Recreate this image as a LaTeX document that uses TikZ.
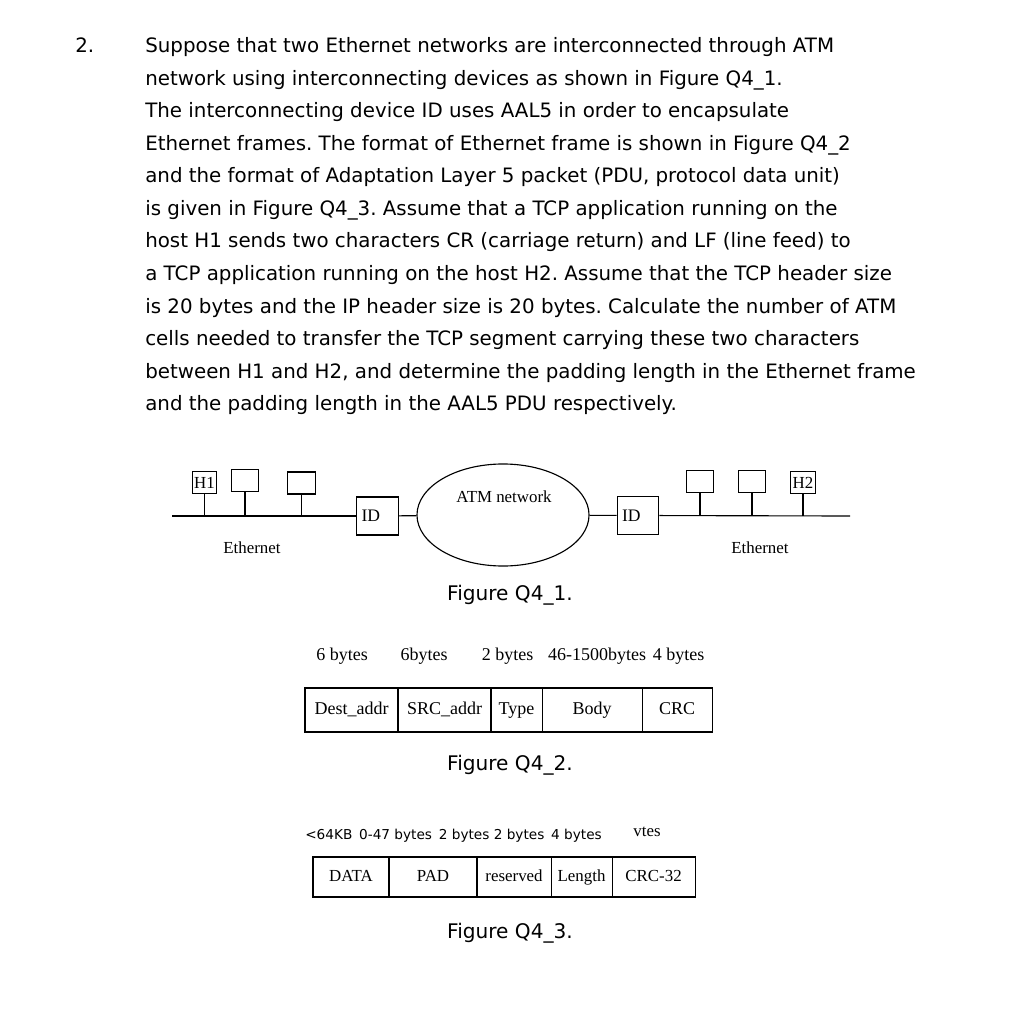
\documentclass[tikz,border=0pt]{standalone}
\usepackage{fontspec}
\setmainfont{Liberation Serif}
\newfontfamily\qfont{DejaVu Sans}
\usetikzlibrary{positioning,shapes.geometric}
\frenchspacing
\tikzset{
    qtext/.style={anchor=base west, inner sep=0pt, font=\qfont\fontsize{14.1}{17}\selectfont},
    caption/.style={anchor=base, inner sep=0pt, font=\qfont\fontsize{14.3}{17}\selectfont},
    lan/.style={line width=0.8pt},
    host/.style={draw, line width=0.8pt, minimum width=0.68cm, minimum height=0.55cm, inner sep=0pt, font=\fontsize{12}{14}\selectfont},
    idbox/.style={draw, line width=0.8pt, text width=0.8cm, align=left, inner xsep=0.12cm, minimum height=0.95cm, font=\fontsize{12.5}{14}\selectfont},
    cell/.style={draw, line width=0.8pt, inner sep=0pt, outer sep=0pt, text height=9pt, text depth=3pt}
}
\begin{document}
\begin{tikzpicture}[x=0.025cm, y=-0.025cm,
    % Style cho chu thich trong hinh
    small/.style={inner sep=0pt, font=\fontsize{12}{14}\selectfont},
    head/.style={anchor=base, inner sep=0pt, font=\fontsize{12.8}{15}\selectfont}
]
    \fill[white] (0,0) rectangle (1022,1024);
    \useasboundingbox (0,0) rectangle (1022,1024);

    % --- DE BAI ---
    \node[qtext] (num) at (75,53) {2.};
    \foreach \txt [count=\i from 0] in {
        Suppose that two Ethernet networks are interconnected through ATM,
        network using interconnecting devices as shown in Figure Q4\_1.,
        The interconnecting device ID uses AAL5 in order to encapsulate,
        Ethernet frames. The format of Ethernet frame is shown in Figure Q4\_2,
        {and the format of Adaptation Layer 5 packet (PDU, protocol data unit)},
        is given in Figure Q4\_3. Assume that a TCP application running on the,
        host H1 sends two characters CR (carriage return) and LF (line feed) to,
        {a TCP application running on the host H2. Assume that the TCP header size},
        is 20 bytes and the IP header size is 20 bytes. Calculate the number of ATM,
        cells needed to transfer the TCP segment carrying these two characters,
        {between H1 and H2, and determine the padding length in the Ethernet frame},
        and the padding length in the AAL5 PDU respectively.
    }
        \node[qtext] (line\i) at (145,{53+32.5*\i}) {\txt};

    % --- HINH Q4_1 ---
    % Mang ATM o giua
    \node[ellipse, draw, line width=0.8pt, minimum width=4.3cm, minimum height=2.55cm] (atm) at (503,515) {};
    \node[small] (atmlabel) at (504,497) {ATM network};
    \node[idbox] (idL) at (377.5,516) {ID};
    \node[idbox] (idR) at (638,515.5) {ID};
    \draw[lan] (idL) -- (atm);
    \draw[lan] (atm) -- (idR);

    % Ethernet trai
    \coordinate (lanL) at (172,516);
    \draw[lan] (lanL) -- (idL);
    \node[host, minimum width=0.62cm] (h1) at (204.5,482.5) {H1};
    \node[host] (hL2) at (245,480.5) {};
    \node[host] (hL3) at (301.5,483) {};
    \foreach \h in {h1,hL2,hL3}
        \draw[lan] (\h) -- (\h |- lanL);
    \node[small] (ethL) at (252,548) {Ethernet};

    % Ethernet phai
    \coordinate (lanR) at (850,516);
    \draw[lan] (idR) -- (lanR);
    \node[host] (hR1) at (700,481.5) {};
    \node[host] (hR2) at (752,481.5) {};
    \node[host, minimum width=0.62cm] (h2) at (803,482.5) {H2};
    \foreach \h in {hR1,hR2,h2}
        \draw[lan] (\h) -- (\h |- lanR);
    \node[small] (ethR) at (760,548) {Ethernet};

    \node[caption] (cap1) at (510,600) {Figure Q4\_1.};

    % --- HINH Q4_2: khung Ethernet ---
    \node[head] (b1) at (342,660) {6 bytes};
    \node[head] (b2) at (424,660) {6bytes};
    \node[head] (b3) at (507.5,660) {2 bytes};
    \node[head] (b4) at (597,660) {46-1500bytes};
    \node[head] (b5) at (678.5,660) {4 bytes};

    \begin{scope}[every node/.append style={cell, font=\fontsize{12.8}{15}\selectfont, minimum height=1.1cm}]
        \node[minimum width=2.325cm, anchor=west] (dest) at (305,710) {Dest\_addr};
        \node[minimum width=2.325cm, right=0pt of dest] (src) {SRC\_addr};
        \node[minimum width=1.275cm, right=0pt of src] (type) {Type};
        \node[minimum width=2.5cm, right=0pt of type] (body) {Body};
        \node[minimum width=1.75cm, right=0pt of body] (crc) {CRC};
    \end{scope}

    \node[caption] (cap2) at (510,770) {Figure Q4\_2.};

    % --- HINH Q4_3: AAL5 PDU ---
    \node[anchor=base west, inner sep=0pt, font=\qfont\fontsize{9.7}{12}\selectfont] (aalhead) at (305,839)
        {<64KB\enspace 0-47 bytes\enspace 2 bytes 2 bytes\enspace 4 bytes};
    \node[head, font=\fontsize{12}{14}\selectfont] (cut) at (647,836) {vtes};

    \begin{scope}[every node/.append style={cell, font=\fontsize{12}{14}\selectfont, minimum height=1.0cm}]
        \node[minimum width=1.9cm, anchor=west] (data) at (313,877) {DATA};
        \node[minimum width=2.2cm, right=0pt of data] (pad) {PAD};
        \node[minimum width=1.85cm, right=0pt of pad] (resv) {reserved};
        \node[minimum width=1.525cm, right=0pt of resv] (len) {Length};
        \node[minimum width=2.075cm, right=0pt of len] (crc32) {CRC-32};
    \end{scope}

    \node[caption] (cap3) at (510,938) {Figure Q4\_3.};
\end{tikzpicture}
\end{document}
